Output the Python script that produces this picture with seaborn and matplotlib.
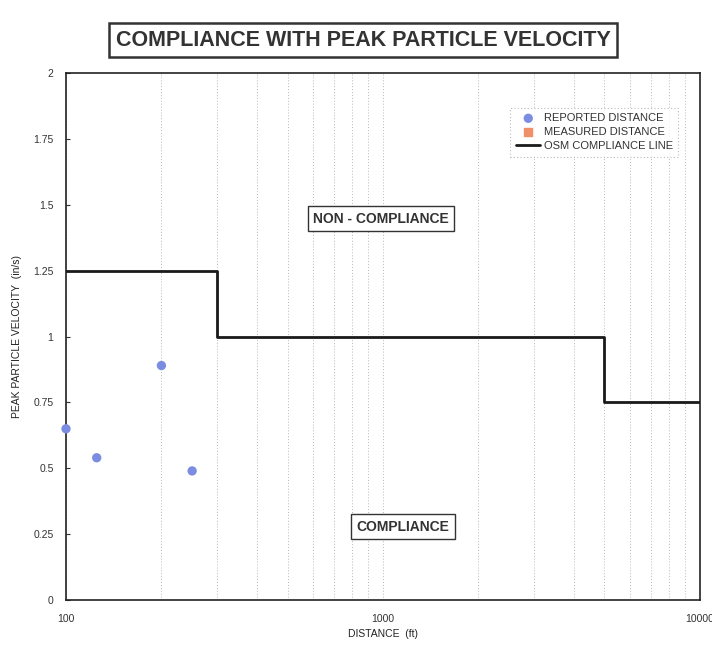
import numpy as np
import pandas as pd
import matplotlib
matplotlib.use("Agg")
import matplotlib.pyplot as plt
from matplotlib.ticker import FixedLocator, NullFormatter
import seaborn as sns

# reported blasts (distance ft, ppv in/s)
reported_dist = [100, 125, 200, 250]
reported_ppv = [0.65, 0.54, 0.89, 0.49]

# measured distance series is empty in the chart
measured_dist = []
measured_ppv = []

# OSM compliance line breakpoints
osm_dist = [100, 300, 5000, 10000]
osm_ppv = [1.25, 1.0, 0.75, 0.75]

y_ticks = [0, 0.25, 0.5, 0.75, 1, 1.25, 1.5, 1.75, 2]
y_labels = ["0", "0.25", "0.5", "0.75", "1", "1.25", "1.5", "1.75", "2"]
x_ticks = [100, 1000, 10000]
x_labels = ["100", "1000", "10000"]

sns.set_style("white")
plt.rcParams["font.family"] = ["Liberation Sans", "DejaVu Sans"]

fig = plt.figure(figsize=(7.12, 6.47), dpi=100)
ax = fig.add_axes([0.0927, 0.0726, 0.8903, 0.8144])

rep = pd.DataFrame({"dist": reported_dist, "ppv": reported_ppv})
osm = pd.DataFrame({"dist": osm_dist, "ppv": osm_ppv})

sns.scatterplot(data=rep, x="dist", y="ppv", ax=ax, color="#7b8de0", s=45,
                edgecolor="none", label="REPORTED DISTANCE", zorder=4, clip_on=False)
ax.scatter(measured_dist, measured_ppv, marker="s", color="#f0906a", s=30,
           label="MEASURED DISTANCE")
sns.lineplot(data=osm, x="dist", y="ppv", ax=ax, color="#1a1a1a", lw=2,
             drawstyle="steps-post", label="OSM COMPLIANCE LINE", zorder=3)

ax.set_xscale("log")
ax.set_xlim(100, 10000)
ax.set_ylim(0, 2)

# gridlines at every log step
minor = [m * d for d in (100, 1000) for m in range(2, 10)]
ax.xaxis.set_minor_locator(FixedLocator(minor))
ax.xaxis.set_minor_formatter(NullFormatter())
ax.grid(which="minor", axis="x", color="#b8b8b8", ls=(0, (1, 2)), lw=0.7)
ax.grid(which="major", axis="x", color="#b8b8b8", ls=(0, (1, 2)), lw=0.7)
ax.grid(axis="y", visible=False)

ax.set_xticks(x_ticks)
ax.set_xticklabels(x_labels)
ax.set_yticks(y_ticks)
ax.set_yticklabels(y_labels)
ax.tick_params(axis="both", labelsize=7.5, colors="#333333", length=3, direction="in",
               left=True, bottom=False, which="major")
ax.tick_params(axis="y", which="major", pad=9)
ax.tick_params(axis="x", which="major", pad=10)
ax.tick_params(axis="x", which="minor", bottom=False)

for s in ax.spines.values():
    s.set_color("#222222")
    s.set_linewidth(1.2)

ax.set_xlabel("DISTANCE  (ft)", fontsize=7.5, color="#222222", labelpad=4)
ax.set_ylabel("PEAK PARTICLE VELOCITY  (in/s)", fontsize=7.5, color="#222222", labelpad=8)

leg = ax.legend(loc="upper right", bbox_to_anchor=(0.975, 0.945), fontsize=8,
                frameon=True, borderpad=0.5, handlelength=2.2, handletextpad=0.3,
                labelspacing=0.35, fancybox=False)
leg.get_frame().set_edgecolor("#aaaaaa")
leg.get_frame().set_linestyle((0, (1, 2)))
leg.get_frame().set_linewidth(0.8)
for t in leg.get_texts():
    t.set_color("#333333")

box = dict(boxstyle="square,pad=0.4", fc="white", ec="#333333", lw=1)
ax.text(0.497, 0.724, "NON - COMPLIANCE", transform=ax.transAxes, ha="center",
        va="center", fontsize=10, fontweight="bold", color="#333333", bbox=box)
ax.text(0.532, 0.139, "COMPLIANCE", transform=ax.transAxes, ha="center",
        va="center", fontsize=10, fontweight="bold", color="#333333", bbox=box)

fig.text(0.51, 0.938, "COMPLIANCE WITH PEAK PARTICLE VELOCITY", ha="center",
         va="center", fontsize=15.5, fontweight="bold", color="#333333",
         bbox=dict(boxstyle="square,pad=0.3", fc="white", ec="#333333", lw=1.8))

fig.savefig("out.png", dpi=100)
